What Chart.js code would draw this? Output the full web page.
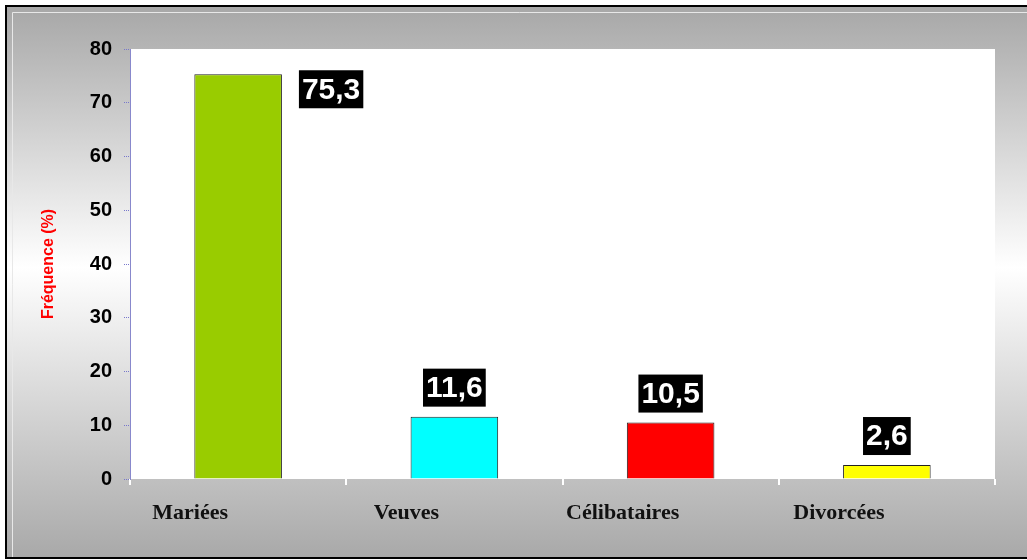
<!DOCTYPE html>
<html>
<head>
<meta charset="utf-8">
<script src="https://cdn.jsdelivr.net/npm/chart.js@4.4.1/dist/chart.umd.min.js"></script>
<style>
  body { margin: 0; background: #fff; }
  #wrap { width: 1027px; height: 560px; }
</style>
</head>
<body>
<div id="wrap"><canvas id="myChart" width="1027" height="560"></canvas></div>
<script>
// data
var categories = ['Mariées', 'Veuves', 'Célibataires', 'Divorcées'];
var frequences = [75.3, 11.6, 10.5, 2.6];
var barColors = ['#99cc00', '#00ffff', '#ff0000', '#ffff00'];
var yTicks = [0, 10, 20, 30, 40, 50, 60, 70, 80];

// grey gradient frame + white plot area
var framePlugin = {
    id: 'frame',
    beforeDraw: function(chart) {
        var ctx = chart.ctx;
        var h = chart.height;
        var w = chart.width;
        ctx.save();
        var g = ctx.createLinearGradient(0, 12, 0, h - 4);
        g.addColorStop(0, '#a9a9a9');
        g.addColorStop(0.47, '#ffffff');
        g.addColorStop(1, '#a9a9a9');
        ctx.fillStyle = g;
        ctx.fillRect(6, 6, w - 6, h - 8);
        ctx.strokeStyle = '#000';
        ctx.lineWidth = 2;
        ctx.strokeRect(6, 6, w + 4, h - 8);
        ctx.strokeStyle = '#e8e8e8';
        ctx.lineWidth = 1;
        ctx.beginPath();
        ctx.moveTo(12.5, h - 3);
        ctx.lineTo(12.5, 12.5);
        ctx.lineTo(w, 12.5);
        ctx.stroke();
        var a = chart.chartArea;
        ctx.fillStyle = '#fff';
        ctx.fillRect(a.left, a.top, a.right - a.left, a.bottom - a.top);
        ctx.restore();
    }
};

// black boxes with white values, above the bar or to its right if no room
var valuePlugin = {
    id: 'values',
    afterDatasetsDraw: function(chart) {
        var ctx = chart.ctx;
        var meta = chart.getDatasetMeta(0);
        var area = chart.chartArea;
        ctx.save();
        ctx.font = 'bold 30px "Liberation Sans", Arial, sans-serif';
        ctx.textAlign = 'center';
        ctx.textBaseline = 'middle';
        meta.data.forEach(function(bar, i) {
            var txt = frequences[i].toFixed(1).replace('.', ',');
            var bw = ctx.measureText(txt).width + 6;
            var bh = 38;
            var cx, cy;
            if (bar.y - bh - 10 < area.top) {
                cx = bar.x + bar.width / 2 + 17 + bw / 2;
                cy = bar.y + 15;
            } else {
                cx = bar.x;
                cy = bar.y - 10 - bh / 2;
            }
            ctx.fillStyle = '#000';
            ctx.fillRect(cx - bw / 2, cy - bh / 2, bw, bh);
            ctx.fillStyle = '#fff';
            ctx.fillText(txt, cx, cy + 1);
        });
        ctx.restore();
    }
};

var ctx = document.getElementById('myChart').getContext('2d');
var myChart = new Chart(ctx, {
    type: 'bar',
    data: {
        labels: categories,
        datasets: [{
            data: frequences,
            backgroundColor: barColors,
            borderColor: '#222',
            borderWidth: 1,
            barPercentage: 0.405,
            categoryPercentage: 1
        }]
    },
    options: {
        responsive: false,
        animation: false,
        layout: { padding: { left: 0, right: 32, top: 49, bottom: 0 } },
        plugins: {
            legend: { display: false },
            tooltip: { enabled: false }
        },
        scales: {
            x: {
                afterFit: function(scale) { scale.height = 81; },
                grid: {
                    drawOnChartArea: false,
                    color: '#ffffff',
                    lineWidth: 2,
                    tickLength: 6
                },
                border: { display: false },
                ticks: {
                    color: '#111',
                    padding: 15,
                    labelOffset: -48,
                    font: { family: '"Liberation Serif", "Times New Roman", serif', size: 22, weight: 'bold' }
                }
            },
            y: {
                min: 0,
                max: 80,
                afterFit: function(scale) { scale.width = 130; },
                afterBuildTicks: function(scale) {
                    scale.ticks = yTicks.map(function(v) { return { value: v }; });
                },
                grid: {
                    drawOnChartArea: false,
                    color: '#7777cc',
                    tickLength: 6,
                    tickBorderDash: [1, 1]
                },
                border: { color: '#8888cc', dash: [1, 2], width: 1 },
                ticks: {
                    color: '#000',
                    padding: 12,
                    font: { family: '"Liberation Sans", Arial, sans-serif', size: 20, weight: 'bold' }
                },
                title: {
                    display: true,
                    text: 'Fréquence (%)',
                    color: '#ff0000',
                    padding: { top: 39, bottom: 0 },
                    font: { family: '"Liberation Sans", Arial, sans-serif', size: 16, weight: 'bold' }
                }
            }
        }
    },
    plugins: [framePlugin, valuePlugin]
});
</script>
</body>
</html>
